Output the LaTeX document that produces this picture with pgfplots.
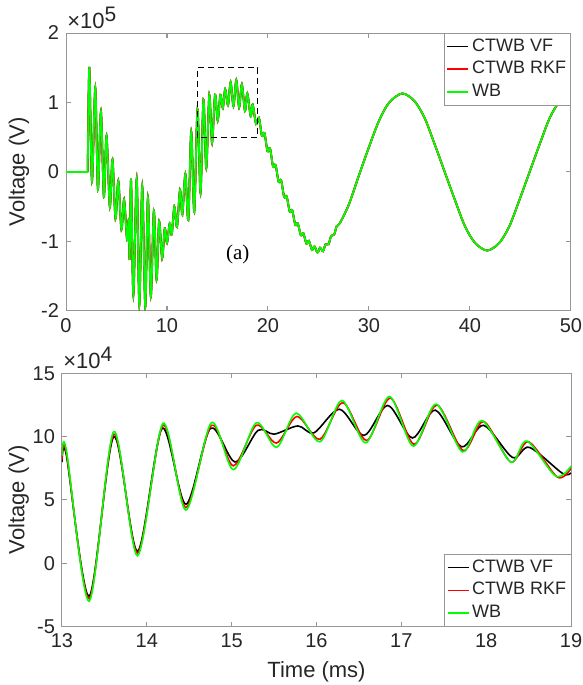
\documentclass[border=0pt]{standalone}
\usepackage{fontspec}
\setmainfont{Liberation Sans}
\newfontfamily\timesfont{Liberation Serif}
\usepackage{pgfplots}
\usepackage{pgfplotstable}
\pgfplotsset{compat=1.18}

\definecolor{mgreen}{RGB}{0,255,0}
\definecolor{axgray}{RGB}{150,150,150}
\definecolor{txt}{RGB}{38,38,38}

% top panel, whole record (V in 1e5)
\pgfplotstableread{
t v
2.15 0
2.31 1.51
2.57 -0.13
2.90 1.21
3.16 -0.25
3.46 0.87
3.75 -0.36
4.01 0.52
4.34 -0.50
4.60 0.18
4.90 -0.67
5.18 -0.13
5.49 -0.83
5.75 -0.40
6.05 -0.98
6.20 -0.69
6.30 -1.25
6.44 -0.11
6.67 -1.77
7.00 -0.10
7.26 -1.91
7.55 -0.21
7.85 -1.94
8.11 -0.37
8.40 -1.79
8.70 -0.56
8.97 -1.55
9.22 -0.71
9.52 -1.24
9.78 -0.81
10.00 -1.02
10.27 -0.74
10.47 -0.90
10.73 -0.50
10.99 -0.79
11.29 -0.26
11.52 -0.61
11.82 -0.03
12.11 -0.69
12.40 0.58
12.70 -0.57
13.02 0.90
13.32 -0.30
13.61 1.04
13.89 0.06
14.19 1.11
14.46 0.42
14.76 1.11
15.02 0.74
15.29 1.11
15.53 0.92
15.76 1.19
16.04 0.96
16.30 1.29
16.58 0.95
16.86 1.32
17.14 0.93
17.41 1.26
17.72 0.88
17.95 1.13
18.29 0.80
18.48 0.97
18.82 0.69
19.10 0.78
19.40 0.52
19.65 0.56
19.95 0.30
20.20 0.34
20.50 0.08
20.75 0.10
21.05 -0.14
21.30 -0.12
21.60 -0.36
21.85 -0.35
22.15 -0.57
22.40 -0.55
22.70 -0.76
22.95 -0.74
23.25 -0.91
23.50 -0.88
23.80 -1.03
24.05 -0.99
24.35 -1.12
24.60 -1.07
24.90 -1.16
25.15 -1.09
25.45 -1.14
25.70 -1.04
26.00 -1.04
26.25 -0.92
26.55 -0.90
26.80 -0.78
27.10 -0.74
28.00 -0.47
29.00 -0.05
30.00 0.36
31.00 0.74
32.00 1.00
33.30 1.13
34.50 1.02
35.50 0.78
36.50 0.40
37.50 0.00
38.50 -0.40
39.50 -0.78
40.50 -1.02
41.70 -1.13
42.90 -1.02
43.90 -0.78
44.90 -0.40
45.90 0.00
46.90 0.40
47.90 0.78
48.90 1.02
50.00 1.13
}\full

% bottom panel, zoom 13-19 ms (V in 1e4)
\pgfplotstableread{
t v
13.00 8.0
13.05 8.6
13.32 -2.6
13.61 10.0
13.89 0.95
14.18 10.66
14.46 4.66
14.75 10.66
15.04 8.0
15.31 10.5
15.50 10.2
15.78 10.85
15.97 10.3
16.27 12.17
16.56 10.1
16.84 12.47
17.13 9.9
17.40 12.1
17.71 9.2
17.97 10.9
18.31 8.36
18.51 9.16
18.90 7.1
19.00 7.15
}\vf

\pgfplotstableread{
t v
13.00 8.2
13.05 8.8
13.32 -2.8
13.61 10.2
13.89 0.8
14.19 10.9
14.46 4.4
14.76 10.9
15.02 7.7
15.29 10.9
15.53 9.5
15.77 11.6
16.04 9.8
16.31 12.7
16.59 9.7
16.87 13.05
17.15 9.4
17.42 12.5
17.73 8.9
17.97 11.2
18.29 8.0
18.50 9.6
18.84 6.8
19.00 7.5
}\rkf

\pgfplotstableread{
t v
13.00 8.5
13.05 9.0
13.32 -3.0
13.61 10.4
13.89 0.6
14.19 11.06
14.46 4.2
14.76 11.1
15.02 7.4
15.29 11.1
15.53 9.16
15.76 11.86
16.04 9.6
16.30 12.86
16.58 9.52
16.86 13.17
17.14 9.26
17.41 12.57
17.72 8.8
17.95 11.27
18.29 8.0
18.48 9.66
18.82 6.88
19.00 7.67
}\wb

\pgfplotsset{
  mat/.style={
    scale only axis,
    anchor=south west,
    tick align=inside,
    major tick length=2.5pt,
    axis line style={axgray, line width=0.5pt},
    every tick/.style={axgray, line width=0.5pt},
    tick label style={font=\fontsize{10}{12}\selectfont, text=txt},
    /pgf/number format/assume math mode=true,
    label style={font=\fontsize{11}{13}\selectfont, text=txt},
    legend cell align=left,
    legend image code/.code={\draw[#1] (0pt,0pt) -- (10.5pt,0pt);},
    legend style={draw=axgray, line width=0.5pt, inner sep=1pt, outer sep=0pt,
      font=\fontsize{9}{10}\selectfont, text=txt,
      nodes={inner sep=1.4pt, text height=6.6pt, text depth=2pt}},
  },
  expo/.style={extra description/.code={
    \node[anchor=base west, font=\fontsize{11}{13}\selectfont, text=txt, inner sep=0pt]
      at ([xshift=0.5pt, yshift=2.3pt]rel axis cs:0,1)
      {×10\raisebox{3.4pt}{\fontsize{10.5}{11}\selectfont #1}};}},
}

\begin{document}
\begin{tikzpicture}
\useasboundingbox (0,0) rectangle (291.5pt,342.5pt);

\begin{axis}[mat, expo=5,
  at={(33pt,187pt)}, width=252.5pt, height=139pt,
  xmin=0, xmax=50, ymin=-2, ymax=2,
  xtick={0,10,...,50}, ytick={-2,-1,0,1,2},
  ylabel={Voltage (V)},
  ylabel style={at={(axis description cs:-0.093,0.5)}, anchor=center},
  legend style={at={(rel axis cs:1,1)}, anchor=north east},
]
\addplot[black, line width=0.9pt, smooth] table {\full};
\addlegendentry{CTWB VF}
\addplot[red, line width=0.95pt, smooth] table {\full};
\addlegendentry{CTWB RKF}
\addplot[mgreen, line width=0.9pt, smooth] table {\full};
\addlegendentry{WB}
\addplot[mgreen, line width=0.9pt, forget plot] coordinates {(0,0) (2.15,0)};
\draw[black, dash pattern=on 3pt off 2pt, line width=0.6pt]
  (axis cs:13,0.5) rectangle (axis cs:19,1.5);
\node[font=\timesfont\fontsize{10.5}{12}\selectfont, text=black] at (axis cs:17.0,-1.19) {(a)};
\end{axis}

\begin{axis}[mat, expo=4,
  at={(31pt,29.2pt)}, width=254.5pt, height=126.6pt,
  xmin=13, xmax=19, ymin=-5, ymax=15,
  xtick={13,...,19}, ytick={-5,0,5,10,15},
  xlabel={Time (ms)}, ylabel={Voltage (V)},
  xlabel style={at={(axis description cs:0.5,-0.18)}, anchor=center},
  ylabel style={at={(axis description cs:-0.085,0.5)}, anchor=center},
  legend style={at={(rel axis cs:1,0)}, anchor=south east},
]
\addplot[black, line width=0.8pt, smooth] table {\vf};
\addlegendentry{CTWB VF}
\addplot[red, line width=0.8pt, smooth] table {\rkf};
\addlegendentry{CTWB RKF}
\addplot[mgreen, line width=0.8pt, smooth] table {\wb};
\addlegendentry{WB}
\end{axis}
\end{tikzpicture}
\end{document}
